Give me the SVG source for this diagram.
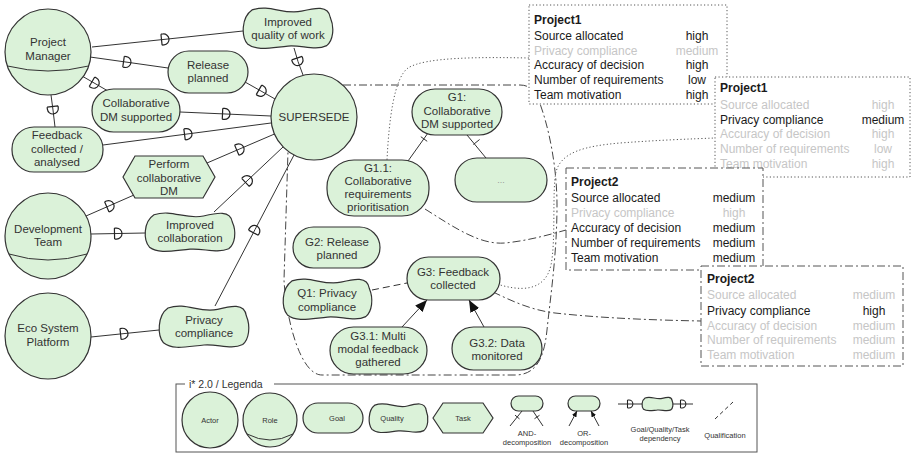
<svg xmlns="http://www.w3.org/2000/svg" width="912" height="454" viewBox="0 0 912 454">
<defs>
<style>
.nd{fill:#dbf2d9;stroke:#333;stroke-width:1.2}
.tx{font-family:"Liberation Sans",Arial,Helvetica,sans-serif;font-size:11.5px;fill:#333;text-anchor:middle}
.ln{fill:none;stroke:#333;stroke-width:1}
.dep{marker-mid:url(#D)}
.bx{font-family:"Liberation Sans",Arial,Helvetica,sans-serif;font-size:12px;fill:#1a1a1a}
.gr{fill:#c6c6c6}
.v{text-anchor:middle}
.ttl{font-weight:bold}
.dot{fill:#fff;stroke:#555;stroke-width:1;stroke-dasharray:1.2 2.3}
.dd{fill:#fff;stroke:#555;stroke-width:1;stroke-dasharray:8 3 2 3}
.dotl{fill:none;stroke:#555;stroke-width:1;stroke-dasharray:1.2 2.3}
.ddl{fill:none;stroke:#444;stroke-width:1;stroke-dasharray:8 3 2 3}
.lg{font-family:"Liberation Sans",Arial,Helvetica,sans-serif;font-size:7.5px;fill:#333;text-anchor:middle}
</style>
<marker id="D" markerUnits="userSpaceOnUse" viewBox="0 0 14 14" markerWidth="14" markerHeight="14" refX="7.5" refY="7" orient="auto">
<path d="M4,1.5 V12.5 M4,1.5 H6 A5.5,5.5 0 0 1 6,12.5 H4" fill="none" stroke="#222" stroke-width="1.2"/>
</marker>
<marker id="DS" markerUnits="userSpaceOnUse" viewBox="0 0 14 14" markerWidth="10" markerHeight="10" refX="7.5" refY="7" orient="auto">
<path d="M4,1.5 V12.5 M4,1.5 H6 A5.5,5.5 0 0 1 6,12.5 H4" fill="none" stroke="#222" stroke-width="1.5"/>
</marker>
<marker id="OR" markerUnits="userSpaceOnUse" viewBox="0 0 12 10" markerWidth="12" markerHeight="10" refX="12" refY="5" orient="auto">
<path d="M0,0 L12,5 L0,10 Z" fill="#111"/>
</marker>
<marker id="ORS" markerUnits="userSpaceOnUse" viewBox="0 0 12 10" markerWidth="6" markerHeight="5" refX="12" refY="5" orient="auto">
<path d="M0,0 L12,5 L0,10 Z" fill="#111"/>
</marker>
</defs>
<rect x="0" y="0" width="912" height="454" fill="#fff"/>

<g id="supersede-boundary">
<path class="ddl" d="M343,85 L520,85 C531,85 536,93 539,101 C550,130 557,170 557,205 C557,255 550,300 547,330 C544,360 535,375 515,375 L322,375 C300,375 286,318 284,280 L288,151"/>
</g>

<g id="connectors">
<!-- trace links -->
<path class="dotl" d="M529,58 C480,57 425,57 408,68 C394,78 389,120 387,160"/>
<path class="dotl" d="M494,283 C520,292 545,292 551,265 C556,240 552,190 556,172 C561,152 585,146 620,143 C660,140 690,139 715,138"/>
<path class="ddl" d="M425,209 C455,228 480,245 505,243 C525,241 545,236 566,230"/>
<path class="ddl" d="M493,292 C510,300 530,310 555,313 C600,318 650,320 701,321"/>
<!-- dependencies -->
<path class="ln dep" d="M92,47 L165,39.3 L243,31"/>
<path class="ln dep" d="M90,57 L127,62.2 L168,68"/>
<path class="ln dep" d="M82,76 L95,83.5 L108,91"/>
<path class="ln dep" d="M51,95 L53,110 L55,127"/>
<path class="ln dep" d="M294,48 L298,61.5 L303,75"/>
<path class="ln dep" d="M245,82 L262,91.6 L275,99"/>
<path class="ln dep" d="M180,112 L226,114 L271,116"/>
<path class="ln dep" d="M103,145 L188,133.9 L271,123"/>
<path class="ln dep" d="M207,163 L240,148.8 L274.5,134"/>
<path class="ln dep" d="M86,216 L110,205.5 L134,195"/>
<path class="ln dep" d="M91,234 L118,233.5 L145,233"/>
<path class="ln dep" d="M214,212 L248,180 L283,147"/>
<path class="ln dep" d="M215,306 L255,229.6 L294,155"/>
<path class="ln dep" d="M91,337 L124,333.6 L159,330"/>
<!-- AND decomposition -->
<path class="ln" d="M408,161 L428,133"/>
<path class="ln" d="M420.8,136.7 L427.2,141.3"/>
<path class="ln" d="M486,158 L467,135"/>
<path class="ln" d="M473.4,144.5 L479.6,139.5"/>
<!-- OR decomposition -->
<path class="ln" d="M402,327 L427,300" marker-end="url(#OR)"/>
<path class="ln" d="M484,327 L469,300" marker-end="url(#OR)"/>
<!-- qualification -->
<path class="ln" stroke-dasharray="7 4" d="M372,290 L407,283"/>
</g>

<g id="project-manager">
<circle class="nd" cx="48" cy="52" r="43"/>
<path class="ln" stroke-width="1.2" d="M7.5,66 Q48,76 88.5,66"/>
<text class="tx" x="48" y="46">Project</text>
<text class="tx" x="48" y="60">Manager</text>
</g>
<g id="development-team">
<circle class="nd" cx="48" cy="236" r="43"/>
<path class="ln" stroke-width="1.2" d="M9,254 Q48,266 87,254"/>
<text class="tx" x="48" y="233">Development</text>
<text class="tx" x="48" y="246">Team</text>
</g>
<g id="eco-system-platform">
<circle class="nd" cx="48" cy="336" r="43"/>
<text class="tx" x="48" y="332">Eco System</text>
<text class="tx" x="48" y="346">Platform</text>
</g>
<g id="supersede">
<circle class="nd" cx="314" cy="117" r="43"/>
<text class="tx" x="314" y="121">SUPERSEDE</text>
</g>

<g id="improved-quality-of-work">
<path class="nd" vector-effect="non-scaling-stroke" transform="translate(243 7) scale(0.9 1.05)" d="M10,2.8 C30,-3.2 45,8 65,4 C80,0.8 95,-2 97,10 C102,20 100,32 93,36.8 C80,42 65,36 50,37.2 C30,38.8 15,42 5,35.2 C-2,28 -2,10 10,2.8 Z"/>
<text class="tx" x="288" y="26">Improved</text>
<text class="tx" x="288" y="39">quality of work</text>
</g>
<g id="release-planned">
<rect class="nd" x="168" y="51" width="80" height="42" rx="21"/>
<text class="tx" x="208" y="69">Release</text>
<text class="tx" x="208" y="82">planned</text>
</g>
<g id="collaborative-dm-supported">
<rect class="nd" x="92" y="89" width="88" height="43" rx="21.5"/>
<text class="tx" x="136" y="107">Collaborative</text>
<text class="tx" x="136" y="121">DM supported</text>
</g>
<g id="feedback-collected">
<rect class="nd" x="12" y="127" width="91" height="45" rx="22"/>
<text class="tx" x="57" y="139">Feedback</text>
<text class="tx" x="57" y="153">collected /</text>
<text class="tx" x="57" y="166">analysed</text>
</g>
<g id="perform-collaborative-dm">
<polygon class="nd" points="123,177 135,156 203,156 215,177 203,198 135,198"/>
<text class="tx" x="169" y="168">Perform</text>
<text class="tx" x="169" y="182">collaborative</text>
<text class="tx" x="169" y="195">DM</text>
</g>
<g id="improved-collaboration">
<path class="nd" vector-effect="non-scaling-stroke" transform="translate(145 212) scale(0.9 1.0)" d="M10,2.8 C30,-3.2 45,8 65,4 C80,0.8 95,-2 97,10 C102,20 100,32 93,36.8 C80,42 65,36 50,37.2 C30,38.8 15,42 5,35.2 C-2,28 -2,10 10,2.8 Z"/>
<text class="tx" x="190" y="229">Improved</text>
<text class="tx" x="190" y="242">collaboration</text>
</g>
<g id="privacy-compliance">
<path class="nd" vector-effect="non-scaling-stroke" transform="translate(159 305) scale(0.9 1.075)" d="M10,2.8 C30,-3.2 45,8 65,4 C80,0.8 95,-2 97,10 C102,20 100,32 93,36.8 C80,42 65,36 50,37.2 C30,38.8 15,42 5,35.2 C-2,28 -2,10 10,2.8 Z"/>
<text class="tx" x="204" y="324">Privacy</text>
<text class="tx" x="204" y="337">compliance</text>
</g>

<g id="g1">
<rect class="nd" x="412" y="89" width="90" height="46" rx="23"/>
<text class="tx" x="457" y="101">G1:</text>
<text class="tx" x="457" y="115">Collaborative</text>
<text class="tx" x="457" y="128">DM supported</text>
</g>
<g id="g1-1">
<rect class="nd" x="327" y="160" width="102" height="56" rx="27"/>
<text class="tx" x="378" y="172">G1.1:</text>
<text class="tx" x="378" y="185">Collaborative</text>
<text class="tx" x="378" y="198">requirements</text>
<text class="tx" x="378" y="211">prioritisation</text>
</g>
<g id="g1-other">
<rect class="nd" x="455" y="158" width="92" height="44" rx="22"/>
<text class="tx" x="501" y="183" style="fill:#999;font-size:9px">...</text>
</g>
<g id="g2">
<rect class="nd" x="293" y="227" width="87" height="41" rx="20.5"/>
<text class="tx" x="337" y="246">G2: Release</text>
<text class="tx" x="337" y="259">planned</text>
</g>
<g id="q1">
<path class="nd" vector-effect="non-scaling-stroke" transform="translate(283 278) scale(0.89 1.05)" d="M10,2.8 C30,-3.2 45,8 65,4 C80,0.8 95,-2 97,10 C102,20 100,32 93,36.8 C80,42 65,36 50,37.2 C30,38.8 15,42 5,35.2 C-2,28 -2,10 10,2.8 Z"/>
<text class="tx" x="327" y="297">Q1: Privacy</text>
<text class="tx" x="327" y="311">compliance</text>
</g>
<g id="g3">
<rect class="nd" x="407" y="257" width="93" height="43" rx="21.5"/>
<text class="tx" x="453" y="276">G3: Feedback</text>
<text class="tx" x="453" y="289">collected</text>
</g>
<g id="g3-1">
<rect class="nd" x="330" y="327" width="97" height="47" rx="23.5"/>
<text class="tx" x="378" y="340">G3.1: Multi</text>
<text class="tx" x="378" y="353">modal feedback</text>
<text class="tx" x="378" y="366">gathered</text>
</g>
<g id="g3-2">
<rect class="nd" x="452" y="327" width="90" height="43" rx="21.5"/>
<text class="tx" x="497" y="347">G3.2: Data</text>
<text class="tx" x="497" y="360">monitored</text>
</g>

<g id="project1-a">
<rect class="dot" x="529" y="5" width="198" height="99"/>
<text class="bx ttl" x="534" y="24">Project1</text>
<text class="bx" x="534" y="40">Source allocated</text><text class="bx v" x="697" y="40">high</text>
<text class="bx gr" x="534" y="55">Privacy compliance</text><text class="bx v gr" x="697" y="55">medium</text>
<text class="bx" x="534" y="69">Accuracy of decision</text><text class="bx v" x="697" y="69">high</text>
<text class="bx" x="534" y="84">Number of requirements</text><text class="bx v" x="697" y="84">low</text>
<text class="bx" x="534" y="99">Team motivation</text><text class="bx v" x="697" y="99">high</text>
</g>
<g id="project1-b">
<rect class="dot" x="715" y="77" width="195" height="100"/>
<text class="bx ttl" x="720" y="92">Project1</text>
<text class="bx gr" x="720" y="109">Source allocated</text><text class="bx v gr" x="883" y="109">high</text>
<text class="bx" x="720" y="124">Privacy compliance</text><text class="bx v" x="883" y="124">medium</text>
<text class="bx gr" x="720" y="138">Accuracy of decision</text><text class="bx v gr" x="883" y="138">high</text>
<text class="bx gr" x="720" y="153">Number of requirements</text><text class="bx v gr" x="883" y="153">low</text>
<text class="bx gr" x="720" y="168">Team motivation</text><text class="bx v gr" x="883" y="168">high</text>
</g>
<g id="project2-a">
<rect class="dd" x="566" y="168" width="197" height="102"/>
<text class="bx ttl" x="571" y="186">Project2</text>
<text class="bx" x="571" y="202">Source allocated</text><text class="bx v" x="734" y="202">medium</text>
<text class="bx gr" x="571" y="217">Privacy compliance</text><text class="bx v gr" x="734" y="217">high</text>
<text class="bx" x="571" y="232">Accuracy of decision</text><text class="bx v" x="734" y="232">medium</text>
<text class="bx" x="571" y="247">Number of requirements</text><text class="bx v" x="734" y="247">medium</text>
<text class="bx" x="571" y="262">Team motivation</text><text class="bx v" x="734" y="262">medium</text>
</g>
<g id="project2-b">
<rect class="dd" x="701" y="266" width="202" height="100"/>
<text class="bx ttl" x="707" y="283">Project2</text>
<text class="bx gr" x="707" y="299">Source allocated</text><text class="bx v gr" x="874" y="299">medium</text>
<text class="bx" x="707" y="315">Privacy compliance</text><text class="bx v" x="874" y="315">high</text>
<text class="bx gr" x="707" y="330">Accuracy of decision</text><text class="bx v gr" x="874" y="330">medium</text>
<text class="bx gr" x="707" y="344">Number of requirements</text><text class="bx v gr" x="874" y="344">medium</text>
<text class="bx gr" x="707" y="359">Team motivation</text><text class="bx v gr" x="874" y="359">medium</text>
</g>

<g id="legend">
<rect x="176" y="384" width="581" height="68" fill="none" stroke="#555" stroke-width="1"/>
<rect x="185" y="378" width="89" height="12" fill="#fff"/>
<text x="189" y="388" style="font-family:'Liberation Sans',Arial,sans-serif;font-size:10.5px;fill:#333">i* 2.0 / Legenda</text>
<circle class="nd" cx="210" cy="420" r="28"/>
<text class="lg" x="210" y="423">Actor</text>
<circle class="nd" cx="270" cy="420" r="27"/>
<path class="ln" d="M247,434 Q270,446 293,434"/>
<text class="lg" x="270" y="423">Role</text>
<rect class="nd" x="303" y="403" width="60" height="30" rx="15"/>
<text class="lg" x="337" y="421">Goal</text>
<path class="nd" vector-effect="non-scaling-stroke" transform="translate(369 403) scale(0.59 0.75)" d="M10,2.8 C30,-3.2 45,8 65,4 C80,0.8 95,-2 97,10 C102,20 100,32 93,36.8 C80,42 65,36 50,37.2 C30,38.8 15,42 5,35.2 C-2,28 -2,10 10,2.8 Z"/>
<text class="lg" x="392" y="421">Quality</text>
<polygon class="nd" points="433,418 443,403 483,403 493,418 483,433 443,433"/>
<text class="lg" x="463" y="421">Task</text>
<rect class="nd" x="511" y="396" width="32" height="15" rx="7.5"/>
<path class="ln" d="M522,411 L510,426 M533,411 L543,426 M515,415.1 L519.5,418.9 M534.5,418.7 L539.5,415.3"/>
<text class="lg" x="527" y="435.5">AND-</text>
<text class="lg" x="527" y="444.5">decomposition</text>
<rect class="nd" x="568" y="396" width="32" height="15" rx="7.5"/>
<path class="ln" d="M569,426 L577,411" marker-end="url(#ORS)"/>
<path class="ln" d="M599,426 L591,411" marker-end="url(#ORS)"/>
<text class="lg" x="584" y="435.5">OR-</text>
<text class="lg" x="584" y="444.5">decomposition</text>
<path class="ln" style="marker-mid:url(#DS)" d="M618,404 L630,404 L642,404"/>
<path class="ln" style="marker-mid:url(#DS)" d="M673,404 L683,404 L693,404"/>
<path class="nd" vector-effect="non-scaling-stroke" transform="translate(642 397) scale(0.31 0.35)" d="M10,2.8 C30,-3.2 45,8 65,4 C80,0.8 95,-2 97,10 C102,20 100,32 93,36.8 C80,42 65,36 50,37.2 C30,38.8 15,42 5,35.2 C-2,28 -2,10 10,2.8 Z"/>
<text class="lg" x="660" y="432">Goal/Quality/Task</text>
<text class="lg" x="660" y="441">dependency</text>
<path class="ln" stroke-dasharray="4 3" d="M715,419 L733,402"/>
<text class="lg" x="725" y="437.5">Qualification</text>
</g>
</svg>
